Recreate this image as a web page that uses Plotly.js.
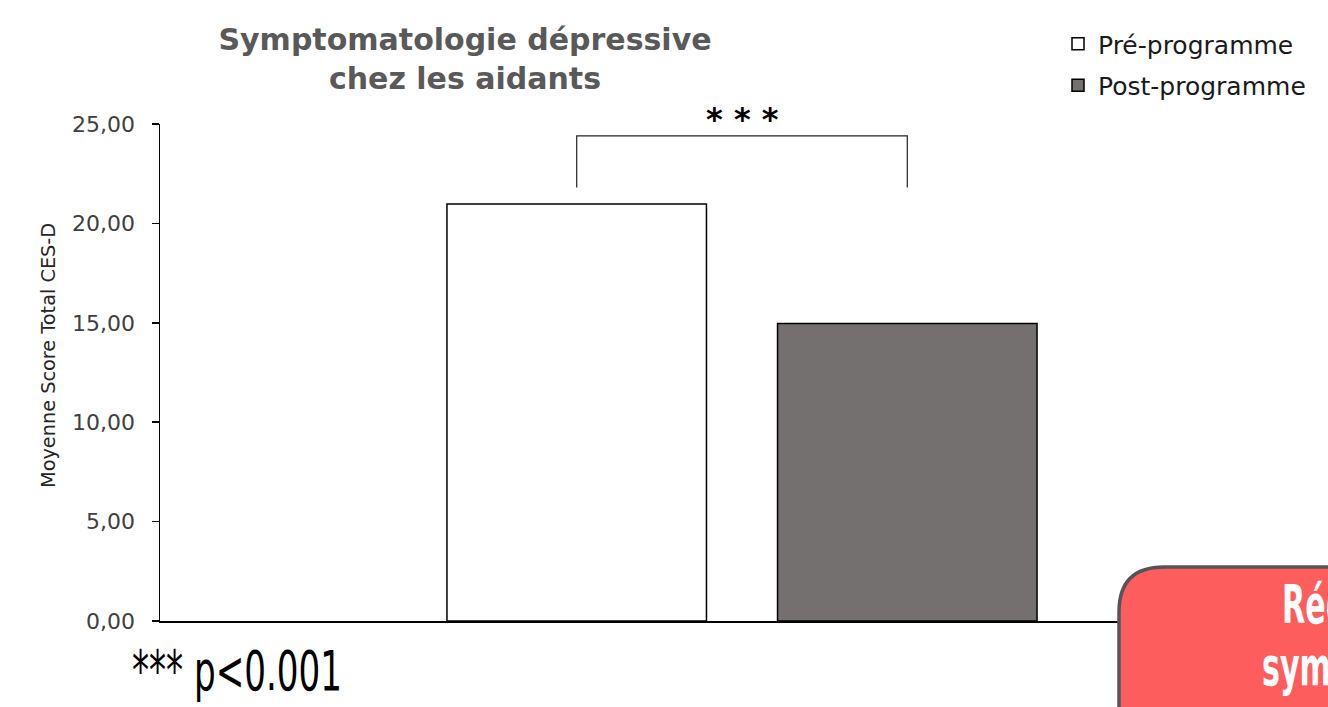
<!DOCTYPE html>
<html>
<head>
<meta charset="utf-8">
<script src="https://cdn.plot.ly/plotly-3.0.1.min.js"></script>
<style>
  html, body { margin: 0; padding: 0; background: #fff; overflow: hidden; }
  #chart { width: 1328px; height: 707px; }
</style>
</head>
<body>
<div id="chart"></div>
<script>
// ---- data ----
const categories = ["Aidants"];
const seriesNames = ["Pré-programme", "Post-programme"];
const preValues = [20.97];
const postValues = [14.97];
const yTickValues = [0, 5, 10, 15, 20, 25];
const yAxisTitle = "Moyenne Score Total CES-D";
const significanceLabel = "* * *";
const pValueNote = "*** p<0.001";
const boxLines = ["Réduction de la", "symptomatologie"];

// ---- layout constants (pixels) ----
const W = 1328, H = 707;
const plotL = 160, plotR = 1324, plotT = 124, plotB = 621;
const pw = plotR - plotL, ph = plotB - plotT;
const px2x = p => (p - plotL) / pw;
const py2y = p => (plotB - p) / ph;
const narrow = "'Liberation Sans Narrow', 'DejaVu Sans Condensed', Roboto, sans-serif";

const bargap = 0.432;
const slot = (1 - bargap) / 2;
const c1 = -slot / 2, c2 = slot / 2;

const traces = [
  {
    type: "bar", name: seriesNames[0], x: categories, y: preValues,
    marker: { color: "#ffffff", line: { color: "#000000", width: 1.5 } },
    legendgroup: "a", hoverinfo: "skip"
  },
  {
    type: "bar", name: seriesNames[1], x: categories, y: postValues,
    marker: { color: "#74706f", line: { color: "#000000", width: 1.5 } },
    legendgroup: "b", hoverinfo: "skip"
  }
];

const r = 45;
const bx = px2x(1119), by = py2y(567);
const rx = r / pw, ry = r / ph;
const boxPath = `M ${bx},-0.4 L ${bx},${by - ry} Q ${bx},${by} ${bx + rx},${by} L 1.3,${by} L 1.3,-0.4 Z`;

const layout = {
  width: W, height: H,
  margin: { l: plotL, r: W - plotR, t: plotT, b: H - plotB, pad: 0 },
  paper_bgcolor: "#ffffff", plot_bgcolor: "#ffffff",
  separators: ", ",
  barmode: "group",
  bargap: bargap,
  bargroupgap: 0.215,
  showlegend: true,
  title: {
    text: "Symptomatologie dépressive<br>chez les aidants",
    font: { family: "DejaVu Sans", size: 30, color: "#595959", weight: "bold" },
    xref: "container", yref: "container",
    x: 465 / W, xanchor: "center",
    y: 1 - 50 / H, yanchor: "top"
  },
  legend: {
    x: px2x(1058), xanchor: "left",
    y: py2y(21), yanchor: "top",
    bgcolor: "rgba(0,0,0,0)",
    font: { family: "DejaVu Sans", size: 25, color: "#1a1a1a" },
    tracegroupgap: 6,
    itemwidth: 30,
    traceorder: "grouped"
  },
  xaxis: {
    type: "category",
    range: [-0.5, 0.5],
    showline: true, linecolor: "#000000", linewidth: 1.5,
    showticklabels: false, ticks: "", showgrid: false, zeroline: false,
    fixedrange: true
  },
  yaxis: {
    range: [0, 25],
    tickvals: yTickValues,
    tickformat: ".2f",
    ticks: "outside", ticklen: 7, tickwidth: 1.5, tickcolor: "#000000",
    ticklabelstandoff: 12,
    showline: true, linecolor: "#000000", linewidth: 1.5,
    showgrid: false, zeroline: false,
    tickfont: { family: "DejaVu Sans", size: 22, color: "#404040" },
    fixedrange: true
  },
  shapes: [
    { type: "path", xref: "x", yref: "y",
      path: `M ${c1},21.8 L ${c1},24.4 L ${c2},24.4 L ${c2},21.8`,
      line: { color: "#222222", width: 1.2 } },
    { type: "path", xref: "paper", yref: "paper", path: boxPath,
      fillcolor: "#fd5d5d", line: { color: "#555555", width: 3.5 }, layer: "above" }
  ],
  annotations: [
    { xref: "x", yref: "y", x: 0, y: 24.4, yanchor: "bottom", yshift: -4,
      text: significanceLabel, showarrow: false,
      font: { family: "DejaVu Sans", size: 32, color: "#000000", weight: "bold" } },
    { xref: "paper", yref: "paper", x: px2x(130), xanchor: "left",
      y: py2y(670), yanchor: "middle", text: pValueNote, showarrow: false,
      font: { family: narrow, size: 56, color: "#000000" } },
    { xref: "paper", yref: "paper", x: px2x(1280), xanchor: "left",
      y: py2y(604), yanchor: "middle", text: boxLines[0], showarrow: false,
      font: { family: narrow, size: 54, color: "#ffffff", weight: "bold" } },
    { xref: "paper", yref: "paper", x: px2x(1260), xanchor: "left",
      y: py2y(666), yanchor: "middle", text: boxLines[1], showarrow: false,
      font: { family: narrow, size: 54, color: "#ffffff", weight: "bold" } },
    { xref: "paper", yref: "paper", x: px2x(48), xanchor: "center",
      y: py2y(356), yanchor: "middle", textangle: -90,
      text: yAxisTitle, showarrow: false,
      font: { family: "DejaVu Sans", size: 19.3, color: "#262626" } }
  ]
};

// condense a text horizontally (the reference uses a very narrow typeface)
function condense(gd, idx, targetW, factor) {
  const t = gd.querySelector(`.annotation[data-index="${idx}"] text.annotation-text`);
  if (!t) return;
  const nat = t.getComputedTextLength();
  const nw = targetW || nat * factor;
  t.setAttribute("textLength", nw);
  t.setAttribute("lengthAdjust", "spacingAndGlyphs");
  const anchor = t.getAttribute("text-anchor") || getComputedStyle(t).textAnchor;
  let dx = 0;
  if (anchor === "middle") dx = -(nat - nw) / 2;
  else if (anchor === "end") dx = -(nat - nw);
  const prev = t.getAttribute("transform") || "";
  t.setAttribute("transform", `translate(${dx},0) ${prev}`);
}

Plotly.newPlot("chart", traces, layout, { staticPlot: true, displayModeBar: false })
  .then(gd => {
    condense(gd, 1, 210);
    condense(gd, 2, null, 0.62);
    condense(gd, 3, null, 0.62);
  });
</script>
</body>
</html>
